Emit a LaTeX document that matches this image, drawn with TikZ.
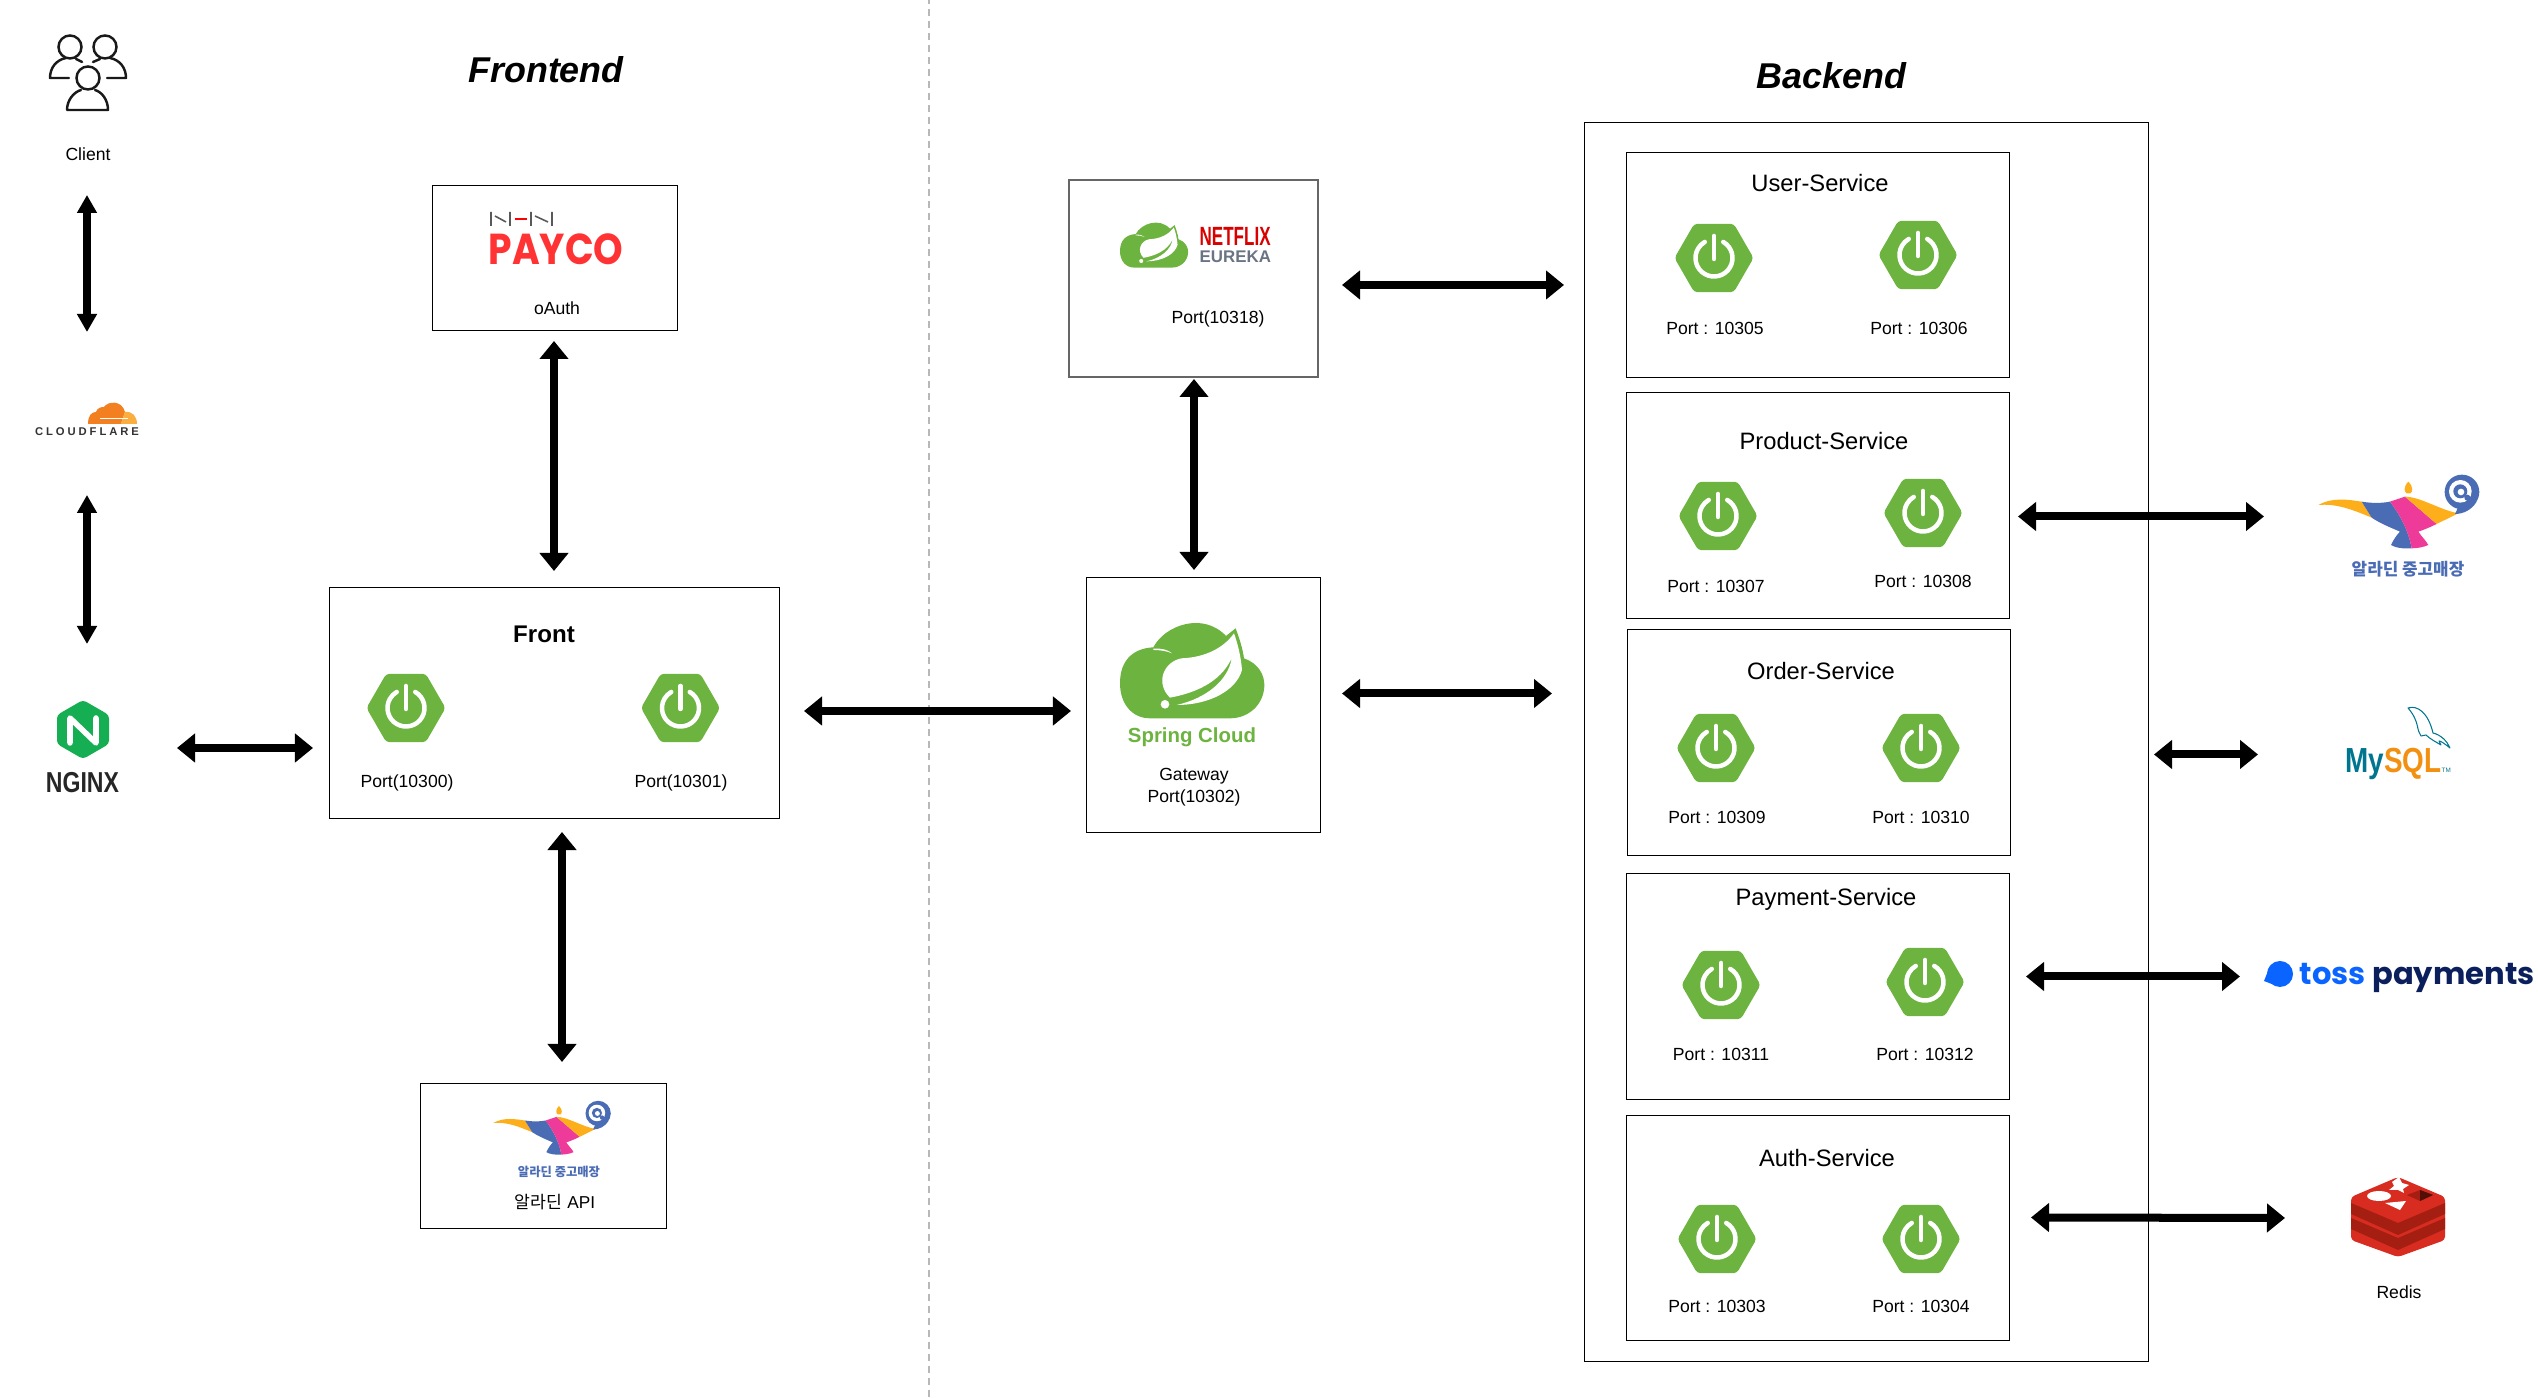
\documentclass[tikz,border=0pt]{standalone}
\usepackage{fontspec}
\setmainfont{Liberation Sans}
\newfontfamily\krfont{Noto Sans CJK KR}
\newfontfamily\logofont{Poppins}
\newfontfamily\spacedfont[LetterSpace=26]{Liberation Sans}
\usepackage{xcolor}
\usepackage{tikz}
\usetikzlibrary{arrows.meta,positioning,shapes.geometric}
\definecolor{springgreen}{HTML}{6DB33F}
\definecolor{lampyellow}{HTML}{FDAE1B}
\definecolor{lampblue}{HTML}{4A6CB5}
\definecolor{lamppink}{HTML}{EE3A98}
\definecolor{redisred}{HTML}{D82C20}
\definecolor{redisdark}{HTML}{A41E11}
\definecolor{mysqlteal}{HTML}{00758F}
\definecolor{mysqlorange}{HTML}{F29111}
\definecolor{nginxgreen}{HTML}{16AE52}
\definecolor{tossblue}{HTML}{0A64FF}
\definecolor{tossnavy}{HTML}{0B1F5C}
\definecolor{eurekagray}{HTML}{6B7482}
\definecolor{cloudorange}{HTML}{F38020}
\definecolor{cloudlight}{HTML}{FAAE40}
\tikzset{
    leafcloud/.pic={
        \fill[springgreen] (150,340) .. controls (150,270) and (190,235) .. (250,232) .. controls (285,165) and (400,125) .. (468,198) -- (497,175) .. controls (508,205) and (518,235) .. (522,265) .. controls (565,280) and (585,315) .. (583,350) .. controls (580,405) and (535,445) .. (480,445) -- (240,445) .. controls (185,445) and (150,400) .. (150,340) -- cycle;
        \fill[white] (492,190) .. controls (460,235) and (405,262) .. (335,265) .. controls (280,275) and (255,340) .. (300,383) .. controls (370,370) and (450,340) .. (485,265) .. controls (475,330) and (410,385) .. (320,405) .. controls (420,405) and (500,360) .. (516,300) .. controls (513,260) and (503,220) .. (492,190) -- cycle;
        \fill[white] (285,403) circle (13);
        \fill[white] (250,236) .. controls (275,234) and (295,240) .. (306,250) .. controls (290,243) and (270,240) .. (250,240) -- cycle;
    },
    lamp/.pic={
        \fill[lampyellow] (385,95) .. controls (370,110) and (372,125) .. (380,130) -- (391,130) .. controls (399,125) and (400,110) .. (385,95) -- cycle;
        \fill[lampyellow] (115,165) .. controls (160,140) and (210,150) .. (245,155) -- (275,203) .. controls (220,180) and (170,160) .. (115,165) -- cycle;
        \fill[lampblue] (245,155) .. controls (275,160) and (305,160) .. (330,155) .. controls (360,195) and (385,240) .. (395,295) .. controls (370,297) and (345,293) .. (333,285) .. controls (340,270) and (350,255) .. (360,245) .. controls (330,232) and (300,220) .. (275,203) -- cycle;
        \fill[lamppink] (330,155) -- (375,140) -- (470,222) .. controls (450,232) and (430,240) .. (415,245) .. controls (425,260) and (438,272) .. (445,285) .. controls (430,292) and (410,295) .. (395,295) .. controls (385,240) and (360,195) .. (330,155) -- cycle;
        \fill[lampyellow] (375,140) .. controls (420,140) and (480,180) .. (535,190) -- (470,222) -- cycle;
        \fill[lampblue] (525,192) .. controls (550,192) and (575,180) .. (590,155) -- (540,160) -- cycle;
        \fill[lampblue] (546,126) circle (52);
        \fill[white] (541,124) circle (34);
        \fill[lampblue] (541,124) circle (21);
        \fill[white] (543,126) circle (10);
        \fill[lampblue] (562,143) circle (9);
    }
}
\begin{document}
\begin{tikzpicture}[
    x=0.01cm, y=-0.01cm,
    box/.style={draw=black, line width=0.3pt},
    graybox/.style={draw=black!60, line width=0.45pt},
    portlabel/.style={inner sep=0pt, align=center, font=\fontsize{5}{6.2}\selectfont},
    title/.style={inner sep=0pt, font=\fontsize{6.75}{8}\selectfont},
    heading/.style={inner sep=0pt, font=\fontsize{10.2}{12}\selectfont\bfseries\itshape},
    hexicon/.style={regular polygon, regular polygon sides=6, minimum size=0.79cm, inner sep=0pt, fill=springgreen, rounded corners=1pt,
        path picture={
            \draw[white, line width=0.045cm, line cap=round] (path picture bounding box.center) ++(60:0.185cm) arc[start angle=60, end angle=-240, radius=0.185cm];
            \draw[white, line width=0.045cm, line cap=round] ([yshift=0.22cm]path picture bounding box.center) -- ([yshift=-0.01cm]path picture bounding box.center);
        }},
    arrow/.style={{Triangle[length=0.18cm, width=0.28cm]}-{Triangle[length=0.18cm, width=0.28cm]}, line width=0.08cm},
    narrowarrow/.style={{Triangle[length=0.18cm, width=0.19cm]}-{Triangle[length=0.18cm, width=0.19cm]}, line width=0.08cm}
]
\useasboundingbox (0,0) rectangle (2538,1398);
\draw[black!28, line width=0.7pt, dash pattern=on 0.07cm off 0.05cm, dash phase=0.03cm] (929,0) -- (929,1398);

\node[heading] (frontend) at (546,70) {Frontend};
\node[heading] (backend) at (1831.5,76) {Backend};

% client side
\draw[line width=0.7pt, line cap=round, black!90] (70,47) circle (11.5) (105,47) circle (11.5) (88,78) circle (11.5);
\draw[line width=0.7pt, line cap=round, line join=round, black!90] (69,78) -- (50,78) .. controls (50,68) and (56,60) .. (66,58) (82,62) -- (76,59) (107,78) -- (126,78) .. controls (126,68) and (120,60) .. (110,58) (93,62) -- (100,59) (67,110) .. controls (67,100) and (74,92) .. (81,90) (95,90) .. controls (102,92) and (108,100) .. (108,110) -- (67,110);
\node[portlabel] (client) at (88,154) {Client};

\fill[cloudorange] (88,424) .. controls (88,415) and (92,412) .. (96,412) .. controls (97,408) and (101,407) .. (104,407) .. controls (108,401) and (122,400) .. (125,412) -- (121,424) -- cycle;
\fill[cloudlight] (125,412) .. controls (132,411) and (137,416) .. (137,424) -- (121,424) -- cycle;
\draw[white, line width=0.2pt] (100,418) -- (128,418);
\node[inner sep=0pt, text=black!80, font=\fontsize{3.2}{4}\selectfont\spacedfont\bfseries] (cloudflare) at (87,432) {CLOUDFLARE};

\fill[nginxgreen, rounded corners=1pt] (83,700) -- (109,715) -- (109,744) -- (83,759) -- (57,744) -- (57,715) -- cycle;
\draw[white, line width=0.055cm, line cap=round, line join=round] (70,743) -- (70,718) -- (96,743) -- (96,718);
\node[inner sep=0pt, text=black!85, font=\fontsize{8.2}{9}\selectfont\bfseries] (nginx) at (82.5,783) {\scalebox{0.8}[1]{NGINX}};

% frontend boxes
\node[box, minimum width=2.44cm, minimum height=1.44cm] (payco) at (555,258) {};
\draw[black!65, line width=0.45pt] (491,212) -- (491,226) (510,212) -- (510,226) (495,216) -- (506,222) (531,212) -- (531,226) (552,212) -- (552,226) (535,216) -- (548,222);
\draw[red, line width=0.5pt] (515,219) -- (527,219);
\node[inner sep=0pt, text=red!80!white, font=\fontsize{10.7}{12}\selectfont\logofont\bfseries] (paycologo) at (556,249) {\scalebox{1}[1.15]{PAYCO}};
\node[portlabel] (oauth) at (557,308) {oAuth};

\node[box, minimum width=4.49cm, minimum height=2.30cm] (front) at (554.5,703) {};
\node[inner sep=0pt, font=\fontsize{6.85}{8}\selectfont\bfseries] (fronttitle) at (544,634) {Front};
\node[hexicon] (frontA) at (406,708) {};
\node[hexicon] (frontB) at (680.5,708) {};
\node[portlabel] (frontAport) at (407,783) {Port(10300)};
\node[portlabel] (frontBport) at (681,783) {Port(10301)};

\node[box, minimum width=2.45cm, minimum height=1.44cm] (aladinapi) at (543.5,1156) {};
\pic[scale=0.2433] at (465.3,1082.8) {lamp};
\node[inner sep=0pt, text=lampblue, font=\fontsize{3.5}{4}\selectfont\krfont\bfseries] (aladinapilogo) at (559,1172) {알라딘 중고매장};
\node[inner sep=0pt, font=\fontsize{4.9}{6}\selectfont] (aladinapitext) at (555,1202) {{\krfont 알라딘} API};

% gateway and eureka
\node[graybox, minimum width=2.49cm, minimum height=1.97cm] (eureka) at (1193.5,278.5) {};
\pic[scale=0.1573] at (1096.4,197.6) {leafcloud};
\node[inner sep=0pt, text=red!85!black, font=\fontsize{7.5}{9}\selectfont\bfseries, anchor=west] (netflix) at (1199,236.5) {\scalebox{0.645}[1]{NETFLIX}};
\node[inner sep=0pt, text=eurekagray, font=\fontsize{4.8}{6}\selectfont\bfseries, anchor=west] (eurekalogo) at (1199,256.5) {EUREKA};
\node[portlabel] (eurekaport) at (1218,319) {Port(10318)};

\node[box, minimum width=2.33cm, minimum height=2.54cm] (gateway) at (1203.5,705) {};
\pic[scale=0.3333] at (1070,570) {leafcloud};
\node[inner sep=0pt, text=springgreen, font=\fontsize{5.8}{7}\selectfont\bfseries] (springcloud) at (1192,737.5) {Spring Cloud};
\node[portlabel] (gatewaytext) at (1194,787.5) {Gateway\\Port(10302)};

% backend services
\node[box, minimum width=5.63cm, minimum height=12.38cm] (backendbox) at (1866.5,742) {};

\node[box, minimum width=3.82cm, minimum height=2.24cm] (user) at (1818,265) {};
\node[title] (usertitle) at (1820,183) {User-Service};
\node[hexicon] (userA) at (1714,258) {};
\node[hexicon] (userB) at (1918,255) {};
\node[portlabel] (userAport) at (1715,328) {Port : 10305};
\node[portlabel] (userBport) at (1919,328) {Port : 10306};

\node[box, minimum width=3.82cm, minimum height=2.25cm] (product) at (1818,505.5) {};
\node[title] (producttitle) at (1824,441) {Product-Service};
\node[hexicon] (productA) at (1718,516) {};
\node[hexicon] (productB) at (1923,513) {};
\node[portlabel] (productAport) at (1716,586) {Port : 10307};
\node[portlabel] (productBport) at (1923,581) {Port : 10308};

\node[box, minimum width=3.82cm, minimum height=2.25cm] (order) at (1819,742.5) {};
\node[title] (ordertitle) at (1821,671) {Order-Service};
\node[hexicon] (orderA) at (1716,748) {};
\node[hexicon] (orderB) at (1921,748) {};
\node[portlabel] (orderAport) at (1717,817) {Port : 10309};
\node[portlabel] (orderBport) at (1921,817) {Port : 10310};

\node[box, minimum width=3.82cm, minimum height=2.25cm] (payment) at (1818,986.5) {};
\node[title] (paymenttitle) at (1826,899) {Payment-Service};
\node[hexicon] (paymentA) at (1721,985) {};
\node[hexicon] (paymentB) at (1925,982) {};
\node[portlabel] (paymentAport) at (1721,1054) {Port : 10311};
\node[portlabel] (paymentBport) at (1925,1054) {Port : 10312};

\node[box, minimum width=3.82cm, minimum height=2.24cm] (auth) at (1818,1228) {};
\node[title] (authtitle) at (1827,1158) {Auth-Service};
\node[hexicon] (authA) at (1717,1239) {};
\node[hexicon] (authB) at (1921,1239) {};
\node[portlabel] (authAport) at (1717,1306) {Port : 10303};
\node[portlabel] (authBport) at (1921,1306) {Port : 10304};

% external systems
\pic[scale=0.3333] at (2280,450) {lamp};
\node[inner sep=0pt, text=lampblue, font=\fontsize{4.8}{5}\selectfont\krfont\bfseries] (aladin) at (2408,569) {알라딘 중고매장};

\draw[mysqlteal, line width=0.3pt, line join=round] (2408,708) .. controls (2417,705) and (2428,712) .. (2433,733) .. controls (2441,735) and (2447,741) .. (2450,748) .. controls (2445,744) and (2441,741) .. (2439,741) -- (2441,745) .. controls (2436,742) and (2430,739) .. (2426,735) -- (2421,736) .. controls (2416,730) and (2420,722) .. (2408,708) -- cycle;
\node[inner sep=0pt, anchor=base west, font=\fontsize{9.9}{12}\selectfont\bfseries] (mysql) at (2345,773) {\scalebox{0.8}[1]{\textcolor{mysqlteal}{My}\textcolor{mysqlorange}{SQL}}\textcolor{mysqlteal}{\fontsize{1.8}{2}\selectfont\mdseries TM}};

\fill[tossblue] (2280,974) circle (13);
\fill[tossblue] (2270,966) -- (2264,981) -- (2277,986) -- cycle;
\node[inner sep=0pt, anchor=base west, font=\fontsize{8.7}{12}\selectfont\logofont\bfseries] (toss) at (2299,985) {\textcolor{tossblue}{toss} \textcolor{tossnavy}{payments}};

\fill[redisred, rounded corners=1pt] (2351,1197) -- (2398,1177) -- (2445,1197) -- (2445,1240) -- (2398,1257) -- (2351,1240) -- cycle;
\fill[redisdark] (2351,1203) -- (2398,1223) -- (2445,1203) -- (2445,1214) -- (2398,1235) -- (2351,1214) -- cycle;
\fill[redisdark] (2351,1218) -- (2398,1238) -- (2445,1218) -- (2445,1229) -- (2398,1250) -- (2351,1229) -- cycle;
\fill[white] (2399,1177) -- (2402,1183) -- (2409,1185) -- (2403,1189) -- (2404,1193) -- (2398,1190) -- (2389,1190) -- (2394,1186) -- (2392,1182) -- cycle;
\fill[white] (2379,1196) ellipse (12 and 5);
\fill[white] (2385,1203) -- (2406,1201) -- (2400,1210) -- cycle;
\fill[redisdark] (2407,1195) -- (2420,1190) -- (2433,1195) -- (2420,1201) -- cycle;
\fill[black!50!redisdark] (2420,1190) -- (2433,1195) -- (2420,1201) -- cycle;
\node[portlabel] (redis) at (2399,1292.5) {Redis};

% connectors
\draw[narrowarrow] ([shift={(-1,41)}]client.center) -- ([shift={(0,-100)}]cloudflare.center);
\draw[narrowarrow] ([shift={(0,63)}]cloudflare.center) -- ([shift={(4.5,-139)}]nginx.center);
\draw[arrow] ([shift={(94.5,-35)}]nginx.center) -- ([shift={(-241.5,45)}]front.center);
\draw[arrow] ([shift={(-1,83)}]payco.center) -- ([shift={(-0.5,-132)}]front.center);
\draw[arrow] ([shift={(7.5,129)}]front.center) -- ([shift={(18.5,-94)}]aladinapi.center);
\draw[arrow] ([shift={(249.5,8)}]front.center) -- ([shift={(-132.5,6)}]gateway.center);
\draw[arrow] ([shift={(0.5,100.5)}]eureka.center) -- ([shift={(-9.5,-135)}]gateway.center);
\draw[arrow] ([shift={(148.5,6.5)}]eureka.center) -- ([shift={(-302.5,-457)}]backendbox.center);
\draw[arrow] ([shift={(138.5,-11.5)}]gateway.center) -- ([shift={(-314.5,-48.5)}]backendbox.center);
\draw[arrow] ([shift={(200,11)}]product.center) -- ([shift={(-144,-52.5)}]aladin.center);
\draw[arrow] ([shift={(287.5,12.5)}]backendbox.center) -- ([shift={(-87,-18.5)}]mysql.base west);
\draw[arrow] ([shift={(208,-10)}]payment.center) -- ([shift={(-59,-8.5)}]toss.base west);
\draw[arrow] ([shift={(213,-10.5)}]auth.center) -- ([shift={(-114,-74.5)}]redis.center);
\end{tikzpicture}
\end{document}
